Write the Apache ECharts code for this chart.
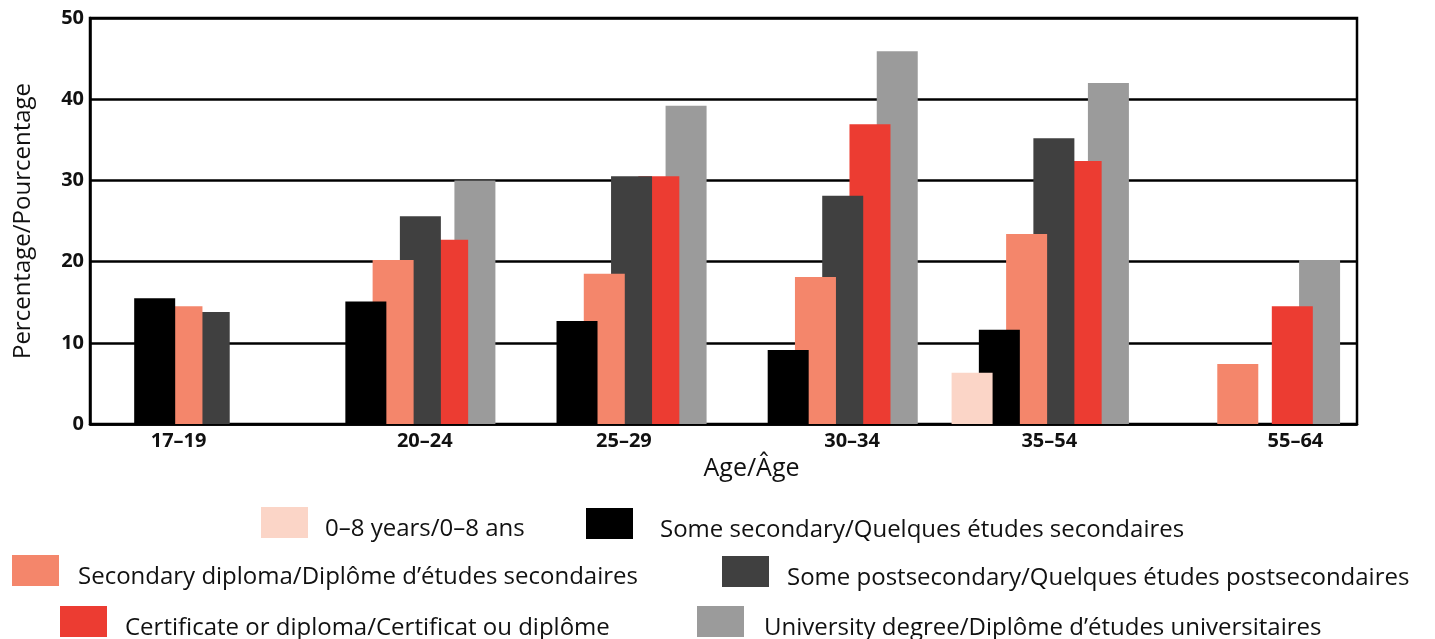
<!DOCTYPE html>
<html>
<head>
<meta charset="utf-8">
<script src="https://cdn.jsdelivr.net/npm/echarts@6/dist/echarts.min.js"></script>
<style>
	html, body { margin: 0; padding: 0; background: #fff; }
	#chart { width: 1435px; height: 639px; }
</style>
</head>
<body>
<div id="chart"></div>
<script>
	// age groups
	var ageGroups = ['17–19', '20–24', '25–29', '30–34', '35–54', '55–64'];
	// percentages by education level (null = no bar)
	var noSchooling = [null, null, null, null, 6.3, null];
	var someSecondary = [15.5, 15.1, 12.7, 9.1, 11.6, null];
	var secondaryDiploma = [14.5, 20.2, 18.5, 18.1, 23.4, 7.4];
	var somePostsecondary = [13.8, 25.6, 30.5, 28.1, 35.2, null];
	var certificate = [null, 22.7, 30.5, 36.9, 32.4, 14.5];
	var university = [null, 30.0, 39.2, 45.9, 42.0, 20.2];
	var yTicks = [0, 10, 20, 30, 40, 50];

	var names = [
		'0–8 years/0–8 ans',
		'Some secondary/Quelques études secondaires',
		'Secondary diploma/Diplôme d’études secondaires',
		'Some postsecondary/Quelques études postsecondaires',
		'Certificate or diploma/Certificat ou diplôme',
		'University degree/Diplôme d’études universitaires'
	];
	var colors = ['#FBD5C7', '#000000', '#F4866B', '#404040', '#EC3C32', '#9B9B9B'];
	var values = [noSchooling, someSecondary, secondaryDiploma, somePostsecondary, certificate, university];

	// label nudges to line up with the reference
	var labelShift = [-34, 36, 12, 46, 18, 88];

	// legend placement (left, top, gap to text)
	var legendPos = [
		[261, 507, 12], [586, 508, 22],
		[12, 555, 14], [722, 556, 13],
		[60, 606, 13], [697, 606, 15]
	];

	var font = '"Open Sans", "Liberation Sans", sans-serif';

	var series = [];
	for (var i = 0; i < names.length; i++) {
		series.push({
			name: names[i],
			type: 'bar',
			data: values[i],
			barWidth: 41,
			barGap: '-33.5%',
			z: 10 - i,
			itemStyle: { color: colors[i] },
			emphasis: { disabled: true }
		});
	}

	var legends = [];
	for (var j = 0; j < names.length; j++) {
		legends.push({
			data: [names[j]],
			left: legendPos[j][0],
			top: legendPos[j][1],
			padding: 0,
			itemWidth: 47,
			itemHeight: 31,
			icon: 'rect',
			selectedMode: false,
			formatter: '{t|{name}}',
			textStyle: {
				rich: {
					t: {
						fontFamily: font,
						fontSize: 24,
						color: '#111',
						padding: [14, 0, 0, legendPos[j][2]]
					}
				}
			}
		});
	}

	var xData = ageGroups.map(function (g, k) {
		return { value: g, textStyle: { padding: [0, 0, 0, labelShift[k]] } };
	});

	var chart = echarts.init(document.getElementById('chart'));
	chart.setOption({
		animation: false,
		backgroundColor: '#fff',
		legend: legends,
		grid: {
			left: 90,
			right: 78,
			top: 18,
			bottom: 215,
			outerBoundsMode: 'none',
			show: true,
			borderColor: '#000',
			borderWidth: 2.5,
			backgroundColor: 'transparent'
		},
		xAxis: {
			type: 'category',
			data: xData,
			name: 'Age/Âge',
			nameLocation: 'middle',
			nameGap: 27,
			nameTextStyle: { fontFamily: font, fontSize: 25, color: '#111', padding: [0, 0, 0, 56] },
			axisLine: { lineStyle: { color: '#000', width: 2.5 } },
			axisTick: { show: false },
			axisLabel: { fontFamily: font, fontSize: 20, fontWeight: 'bold', color: '#111', margin: 7 }
		},
		yAxis: {
			type: 'value',
			min: yTicks[0],
			max: yTicks[yTicks.length - 1],
			interval: 10,
			name: 'Percentage/Pourcentage',
			nameLocation: 'middle',
			nameGap: 55,
			nameTextStyle: { fontFamily: font, fontSize: 24, color: '#111' },
			axisLine: { show: true, lineStyle: { color: '#000', width: 2.5 } },
			axisTick: { show: false },
			axisLabel: { fontFamily: font, fontSize: 20, fontWeight: 'bold', color: '#111', margin: 6 },
			splitLine: { lineStyle: { color: '#000', width: 2.5 } }
		},
		series: series
	});
</script>
</body>
</html>
